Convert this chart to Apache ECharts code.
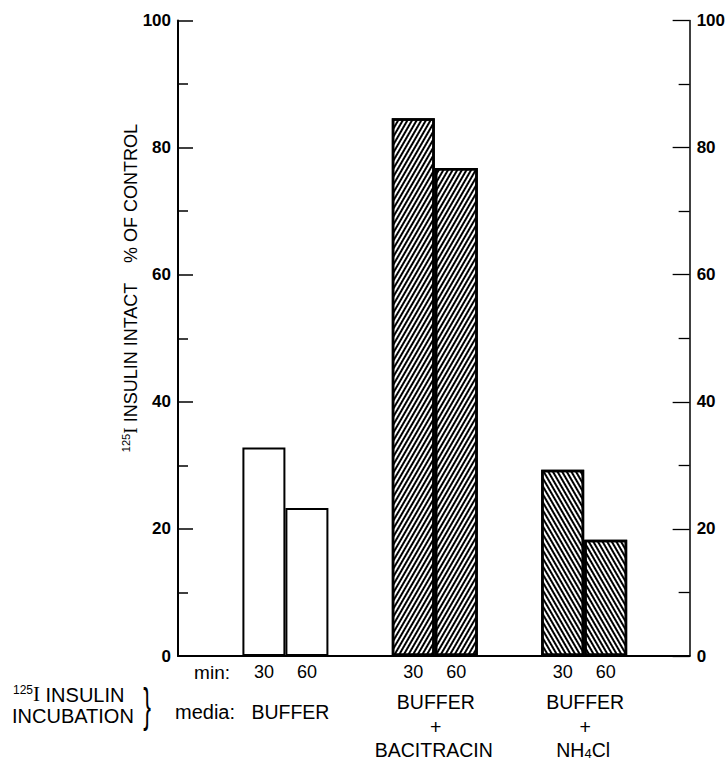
<!DOCTYPE html>
<html>
<head>
<meta charset="utf-8">
<script src="https://cdn.jsdelivr.net/npm/echarts@6/dist/echarts.min.js"></script>
<style>
html,body{margin:0;padding:0;background:#fff;}
#c{width:728px;height:761px;}
</style>
</head>
<body>
<div id="c"></div>
<script>
// ---- data ----
const groups = ['BUFFER', 'BUFFER + BACITRACIN', 'BUFFER + NH4Cl'];
const groupPos = [1, 2, 3];
const timeLabels = ['30', '60'];
const min30 = [32.8, 84.6, 29.3];
const min60 = [23.3, 76.8, 18.3];
const yTitle = ['125', 'I INSULIN INTACT', '% OF CONTROL'];
const mediaLines = [['BUFFER'], ['BUFFER', '+', 'BACITRACIN'], ['BUFFER', '+', 'NH', '4', 'Cl']];

// ---- styles ----
const FONT = 'Liberation Sans, Arial, sans-serif';
const hatchUp = {symbol: 'rect', symbolSize: 1, dashArrayX: [1, 0], dashArrayY: [1.7, 1.3], rotation: -Math.PI / 3, color: '#000'};
const hatchDown = {symbol: 'rect', symbolSize: 1, dashArrayX: [1, 0], dashArrayY: [1.7, 1.3], rotation: Math.PI / 3, color: '#000'};
const groupStyles = [
  {color: '#fff', borderColor: '#000', borderWidth: 2},
  {color: '#fff', borderColor: '#000', borderWidth: 2.5, decal: hatchUp},
  {color: '#fff', borderColor: '#000', borderWidth: 2.5, decal: hatchDown}
];

function mk(values) {
  return values.map((v, i) => ({value: [groupPos[i], v], itemStyle: groupStyles[i]}));
}

const chart = echarts.init(document.getElementById('c'), null, {renderer: 'svg'});

const yAxisBase = {
  type: 'value', min: 0, max: 100, interval: 20,
  axisLine: {show: true, lineStyle: {color: '#000', width: 2}},
  axisTick: {show: true, inside: true, length: 15, lineStyle: {color: '#000', width: 1.5}},
  minorTick: {show: true, splitNumber: 2, length: 10, lineStyle: {color: '#000', width: 1.5}},
  axisLabel: {margin: 7, color: '#000', fontSize: 17, fontWeight: 'bold', fontFamily: FONT},
  splitLine: {show: false}
};

const option = {
  animation: false,
  backgroundColor: '#fff',
  grid: {left: 178, right: 38, top: 20.5, bottom: 105},
  xAxis: {
    type: 'value', min: 0.281, max: 3.706,
    axisLine: {show: true, onZero: false, lineStyle: {color: '#000', width: 2}},
    axisTick: {show: false}, axisLabel: {show: false}, splitLine: {show: false}
  },
  yAxis: [
    Object.assign({}, yAxisBase, {position: 'left'}),
    Object.assign({}, yAxisBase, {position: 'right',
      axisLine: {show: true, lineStyle: {color: '#000', width: 1.5}},
      axisTick: {show: true, inside: true, length: 17, lineStyle: {color: '#000', width: 1.3}},
      minorTick: {show: true, splitNumber: 2, length: 11, lineStyle: {color: '#000', width: 1.3}}
    })
  ],
  series: [timeLabels[0], timeLabels[1]].map((name, k) => ({
    type: 'bar', name: name,
    data: mk(k === 0 ? min30 : min60),
    barWidth: 43, barGap: '0%',
    label: {show: true, position: 'bottom', distance: 7, formatter: '{a}', color: '#000', fontSize: 18, fontFamily: FONT}
  }))
};
chart.setOption(option);

// ---- text annotations, placed via the axis scale ----
function rich(size) {
  return {
    n: {fontSize: size, fontFamily: FONT, color: '#000', verticalAlign: 'bottom'},
    sup: {fontSize: Math.round(size * 0.6), fontFamily: FONT, color: '#000', verticalAlign: 'top'},
    sub: {fontSize: Math.round(size * 0.65), fontFamily: FONT, color: '#000', verticalAlign: 'bottom'},
    ser: {fontSize: size + 1, fontFamily: 'Liberation Serif, serif', color: '#000', verticalAlign: 'bottom'}
  };
}
const g = [];
// y-axis title
g.push({type: 'text', x: 130, y: 288, rotation: Math.PI / 2,
  style: {text: '{sup|' + yTitle[0] + '}{ser|I}{n|' + yTitle[1].slice(1) + '    ' + yTitle[2] + '}',
    rich: rich(18), align: 'center', verticalAlign: 'middle', fill: '#000'}});
// bottom-left labels
g.push({type: 'text', x: 13, y: 694, style: {text: '{sup|' + yTitle[0] + '}{ser|I}{n| INSULIN}', rich: rich(20), align: 'left', verticalAlign: 'middle'}});
g.push({type: 'text', x: 12, y: 716, style: {text: 'INCUBATION', font: '20px ' + FONT, fill: '#000', align: 'left', verticalAlign: 'middle'}});
g.push({type: 'text', x: 147, y: 705, scaleX: 0.5, style: {text: '}', font: '46px ' + FONT, fill: '#000', align: 'center', verticalAlign: 'middle'}});
g.push({type: 'text', x: 230, y: 672, style: {text: 'min:', font: '19px ' + FONT, fill: '#000', align: 'right', verticalAlign: 'middle'}});
g.push({type: 'text', x: 235, y: 712, style: {text: 'media:', font: '20px ' + FONT, fill: '#000', align: 'right', verticalAlign: 'middle'}});
// media labels under each group
groupPos.forEach((p, i) => {
  const cx = chart.convertToPixel({xAxisIndex: 0}, p);
  const lines = mediaLines[i];
  const f = '19.5px ' + FONT;
  if (lines.length === 1) {
    g.push({type: 'text', x: cx + 5, y: 712, style: {text: lines[0], font: f, fill: '#000', align: 'center', verticalAlign: 'middle'}});
  } else {
    g.push({type: 'text', x: cx + 1, y: 702, style: {text: lines[0], font: f, fill: '#000', align: 'center', verticalAlign: 'middle'}});
    g.push({type: 'text', x: cx + 1, y: 727, style: {text: lines[1], font: f, fill: '#000', align: 'center', verticalAlign: 'middle'}});
    const last = lines.length === 3 ? '{n|' + lines[2] + '}' : '{n|' + lines[2] + '}{sub|' + lines[3] + '}{n|' + lines[4] + '}';
    g.push({type: 'text', x: cx - 1, y: 750, style: {text: last, rich: rich(19.5), align: 'center', verticalAlign: 'middle'}});
  }
});
chart.setOption({graphic: g});
</script>
</body>
</html>
